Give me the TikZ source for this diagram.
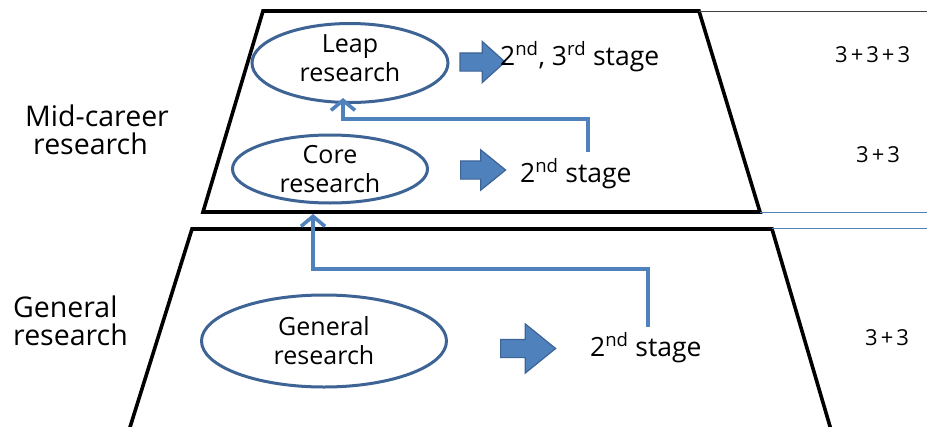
\documentclass[tikz,border=0pt]{standalone}
\usepackage{fontspec}
\setmainfont{Open Sans}
\usetikzlibrary{arrows.meta,shapes.arrows,shapes.geometric}
\definecolor{accblue}{RGB}{79,129,189}
\definecolor{ellblue}{RGB}{62,100,150}
\begin{document}
\begin{tikzpicture}[x=1pt,y=-1pt,
  researchbox/.style={ellipse, draw=ellblue, line width=3pt, fill=white, inner sep=0pt,
    align=center, font=\fontsize{25}{29}\selectfont},
  stagetext/.style={font=\fontsize{26.5}{30}\selectfont, inner sep=0pt, anchor=base west},
  numtext/.style={font=\fontsize{22}{25}\selectfont, inner sep=0pt, anchor=base west},
  sidelabel/.style={font=\fontsize{28.5}{28}\selectfont, align=left, inner sep=0pt, anchor=north west},
  blockarrow/.style={single arrow, draw=ellblue, fill=accblue, line width=1.2pt, inner xsep=0pt, inner ysep=8.5pt},
  link/.style={draw=accblue, line width=3.6pt, -{Straight Barb[length=10pt,width=24pt,line width=3.6pt]}},
  level/.style={draw=black, line width=3.6pt, line join=miter},
  thinline/.style={line width=1pt}]
\useasboundingbox (0,0) rectangle (927,426);
\clip (0,0) rectangle (927,426);
\fill[white] (0,0) rectangle (927,426);

% levels
\draw[level] (263,11) -- (699,11) -- (760,212) -- (203,212) -- cycle;
\draw[level] (192,229) -- (772,229) -- (834,440) -- (126,440) -- cycle;
\draw[thinline, black!75] (699,11) -- (927,11);
\draw[thinline, accblue] (760,212) -- (927,212);
\draw[thinline, accblue] (772,228) -- (927,228);

% side labels
\node[sidelabel] (midlbl) at (25,105) {Mid-career\\\hspace*{8pt}research};
\node[sidelabel] (genlbl) at (13,296) {General\\research};

% ellipses
\node[researchbox, minimum width=196pt, minimum height=67pt] (leap) at (350,63)
  {Leap\\research\rule[-9pt]{0pt}{0pt}};
\node[researchbox, minimum width=195pt, minimum height=68pt] (core) at (330,169)
  {Core\\research};
\node[researchbox, minimum width=245pt, minimum height=92pt] (general) at (324,341)
  {General\\research};

% block arrows
\node[blockarrow, single arrow head extend=11.5pt, minimum height=45pt,
  single arrow tip angle=84] (arrleap) at (477.5,62) {};
\node[blockarrow, single arrow head extend=11pt, minimum height=45pt,
  single arrow tip angle=78] (arrcore) at (477.5,170) {};
\node[blockarrow, single arrow head extend=15.5pt, minimum height=55pt,
  single arrow tip angle=78] (arrgen) at (522.5,348.5) {};

% stage texts
\node[stagetext] (leapstage) at (500,65) {2\textsuperscript{nd}, 3\textsuperscript{rd} stage};
\node[stagetext] (corestage) at (520,182) {2\textsuperscript{nd} stage};
\node[stagetext] (genstage) at (590,356) {2\textsuperscript{nd} stage};

% numbers
\node[numtext] (numleap) at (835,62) {3{\kern3pt}+{\kern3pt}3{\kern3pt}+{\kern3pt}3};
\node[numtext] (numcore) at (856,162) {3{\kern3pt}+{\kern3pt}3};
\node[numtext] (numgen) at (865,345) {3{\kern3pt}+{\kern3pt}3};

% connectors
\coordinate (c1s) at (588,152);
\coordinate (c1m) at (343,119);
\coordinate (c1t) at (343,98);
\draw[link] (c1s) |- (c1m) -- (c1t);
\coordinate (c2s) at (648,327);
\coordinate (c2m) at (313,269);
\coordinate (c2t) at (313,214);
\draw[link] (c2s) |- (c2m) -- (c2t);
\end{tikzpicture}
\end{document}
